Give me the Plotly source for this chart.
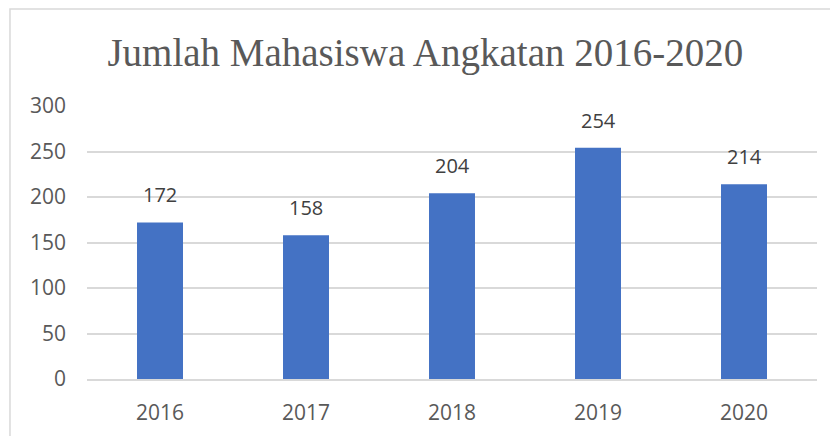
import plotly.graph_objects as go

years = ["2016", "2017", "2018", "2019", "2020"]
students = [172, 158, 204, 254, 214]
y_ticks = [0, 50, 100, 150, 200, 250, 300]

_BAR_COLOR = "#4472c4"
_TEXT_GRAY = "#595959"
_LABEL_GRAY = "#404040"
_GRID_GRAY = "#d9d9d9"
_SANS = "Open Sans, Liberation Sans, sans-serif"

fig = go.Figure(
    go.Bar(
        x=years,
        y=students,
        marker_color=_BAR_COLOR,
        marker_line_width=0,
        hoverinfo="x+y",
    )
)

# data labels above each bar (category index, since "2016" would be read as a number)
for i, value in enumerate(students):
    fig.add_annotation(
        x=i, y=value, text=str(value),
        showarrow=False, yanchor="bottom", yshift=12,
        font=dict(family=_SANS, size=20, color=_LABEL_GRAY),
    )

# chart border (cut off on the right and bottom in the reference)
fig.add_shape(
    type="rect", xref="paper", yref="paper",
    x0=-0.1055, x1=1.1, y0=-0.3, y1=1.3553,
    line=dict(color=_GRID_GRAY, width=1.5), layer="below",
)

fig.update_layout(
    width=838,
    height=436,
    plot_bgcolor="#fff",
    paper_bgcolor="#fff",
    bargap=0.685,
    showlegend=False,
    margin={
        "l": 79,  # left
        "r": 29,  # right
        "t": 98,  # top
        "b": 65,  # bottom
    },
    title=dict(
        text="Jumlah Mahasiswa Angkatan 2016-2020",
        x=0.498, xanchor="center",
        y=0.899, yanchor="middle",
        font=dict(family="Liberation Serif, serif", size=39, color=_TEXT_GRAY),
    ),
)
fig.update_xaxes(
    type="category",
    range=[-0.5, 4.5],
    showgrid=False,
    showline=True, linecolor=_GRID_GRAY, linewidth=1.5,
    ticks="", ticklabelstandoff=14,
    tickfont=dict(family=_SANS, size=21, color=_TEXT_GRAY),
)
fig.update_yaxes(
    range=[0, 300],
    tickvals=y_ticks,
    showgrid=True, gridcolor=_GRID_GRAY, gridwidth=1.5,
    zeroline=False, showline=False,
    ticks="", ticklabelstandoff=20,
    tickfont=dict(family=_SANS, size=21, color=_TEXT_GRAY),
)

fig.write_html("out.html")
